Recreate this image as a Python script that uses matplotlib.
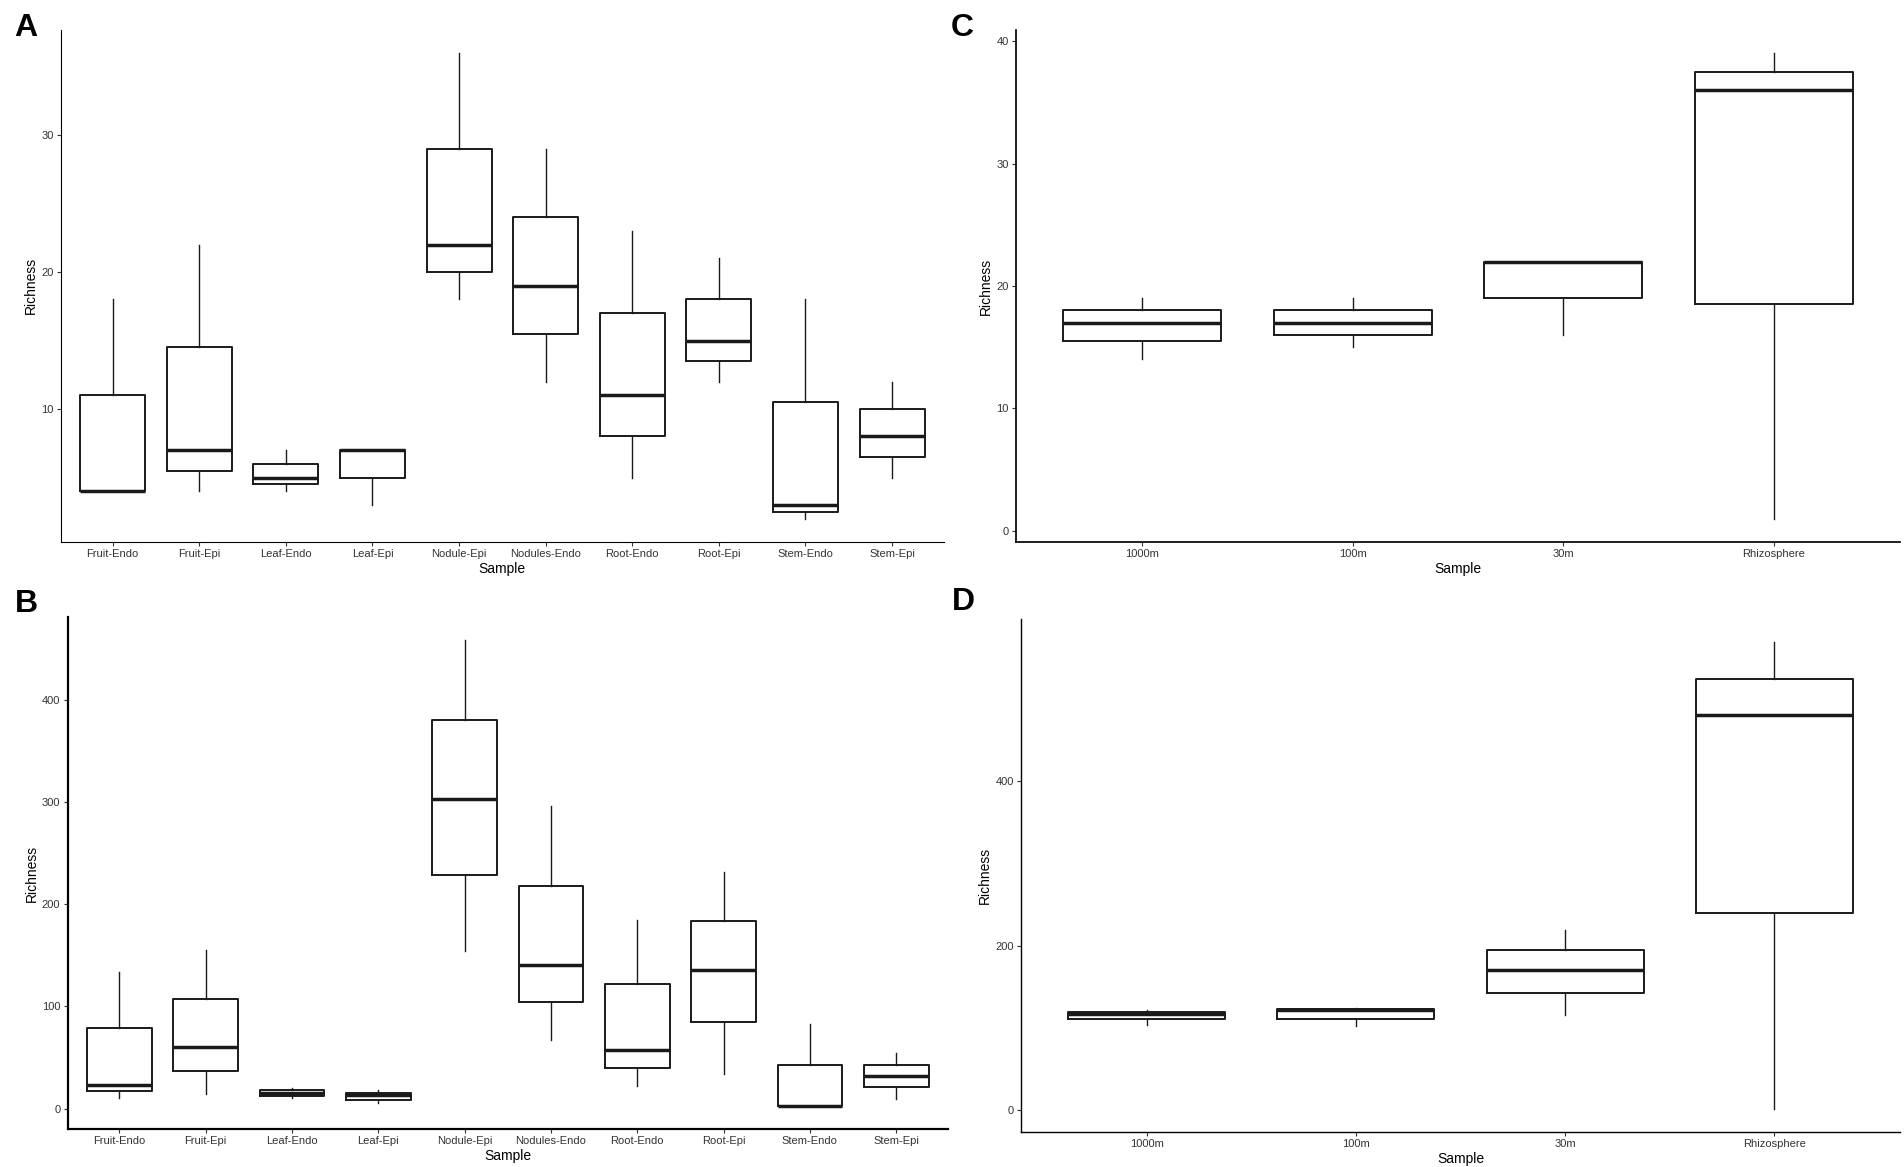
import matplotlib
matplotlib.use('Agg')
import matplotlib.pyplot as plt

plt.rcParams['font.family'] = ['Liberation Sans', 'DejaVu Sans']

# ---------------- data (box statistics) ----------------
tissues = ['Fruit-Endo', 'Fruit-Epi', 'Leaf-Endo', 'Leaf-Epi', 'Nodule-Epi',
           'Nodules-Endo', 'Root-Endo', 'Root-Epi', 'Stem-Endo', 'Stem-Epi']
sites = ['1000m', '100m', '30m', 'Rhizosphere']

# Panel A
a_low = [4, 4, 4, 3, 18, 12, 5, 12, 2, 5]
a_q1 = [4, 5.5, 4.5, 5, 20, 15.5, 8, 13.5, 2.5, 6.5]
a_med = [4, 7, 5, 7, 22, 19, 11, 15, 3, 8]
a_q3 = [11, 14.5, 6, 7, 29, 24, 17, 18, 10.5, 10]
a_high = [18, 22, 7, 7, 36, 29, 23, 21, 18, 12]

# Panel B
b_low = [11, 14, 10.6, 6, 154, 67.5, 22, 34, 3, 10]
b_q1 = [17, 37, 12.4, 9, 229, 104, 40, 85, 3, 21]
b_med = [23, 60.6, 15.7, 13, 303, 141, 57.7, 136, 3, 31.8]
b_q3 = [79, 107, 18.6, 15.3, 380, 218, 122, 183.6, 43, 43]
b_high = [134, 155, 20.4, 18, 458, 296, 185, 231, 82.5, 55]

# Panel C
c_low = [14, 15, 16, 1]
c_q1 = [15.5, 16, 19, 18.5]
c_med = [17, 17, 22, 36]
c_q3 = [18, 18, 22, 37.5]
c_high = [19, 19, 22, 39]

# Panel D
d_low = [103, 102, 115, 1.4]
d_q1 = [110, 111, 142, 240]
d_med = [117, 121, 170, 480]
d_q3 = [119.5, 123, 194, 524.5]
d_high = [121, 124, 219, 569]

a_yticks = [10, 20, 30]
b_yticks = [0, 100, 200, 300, 400]
c_yticks = [0, 10, 20, 30, 40]
d_yticks = [0, 200, 400]

# ---------------- layout ----------------
W, H = 1904, 1167
fig = plt.figure(figsize=(W / 100, H / 100), dpi=100)


def px_axes(left, top, right, bottom):
    return fig.add_axes([left / W, 1 - bottom / H, (right - left) / W, (bottom - top) / H])


INK = '#1a1a1a'
TXT = '#333333'


def draw(ax, cats, low, q1, med, q3, high, yticks, spine_px):
    stats = []
    for i, c in enumerate(cats):
        stats.append(dict(label=c, whislo=low[i], q1=q1[i], med=med[i],
                          q3=q3[i], whishi=high[i], fliers=[]))
    n = len(cats)
    ax.bxp(stats, positions=list(range(1, n + 1)), widths=0.75,
           showcaps=False, showfliers=False,
           boxprops=dict(color=INK, linewidth=1.4),
           medianprops=dict(color=INK, linewidth=2.5, solid_capstyle='butt'),
           whiskerprops=dict(color=INK, linewidth=1.0))
    lo, hi = min(low), max(high)
    pad = 0.05 * (hi - lo)
    ax.set_ylim(lo - pad, hi + pad)
    ax.set_xlim(0.4, n + 0.6)
    ax.set_yticks(yticks)
    ax.set_yticklabels([str(t) for t in yticks])
    ax.set_xticks(list(range(1, n + 1)))
    ax.set_xticklabels(cats)
    for s in ['top', 'right']:
        ax.spines[s].set_visible(False)
    for s in ['left', 'bottom']:
        ax.spines[s].set_linewidth(spine_px * 0.72)
        ax.spines[s].set_color('black')
    ax.tick_params(axis='both', length=2.6, width=0.8, color=TXT,
                   labelsize=8, labelcolor=TXT, pad=2.5)
    ax.set_xlabel('Sample', fontsize=10, color='black', labelpad=2)
    ax.set_ylabel('Richness', fontsize=10, color='black', labelpad=2.5)
    ax.set_facecolor('white')


axA = px_axes(60.7, 29.5, 944, 542)
draw(axA, tissues, a_low, a_q1, a_med, a_q3, a_high, a_yticks, 1.1)

axB = px_axes(67.5, 617, 948, 1129)
draw(axB, tissues, b_low, b_q1, b_med, b_q3, b_high, b_yticks, 2.2)

axC = px_axes(1015.7, 30, 1900, 542)
draw(axC, sites, c_low, c_q1, c_med, c_q3, c_high, c_yticks, 1.7)

axD = px_axes(1021, 619, 1900, 1132)
draw(axD, sites, d_low, d_q1, d_med, d_q3, d_high, d_yticks, 1.4)

for lab, x, y in [('A', 14, 13), ('B', 15, 589), ('C', 951, 13), ('D', 952, 587)]:
    fig.text(x / W, 1 - y / H, lab, fontsize=23, fontweight='bold',
             ha='left', va='top', color='black')

fig.savefig('out.png', dpi=100, facecolor='white')
